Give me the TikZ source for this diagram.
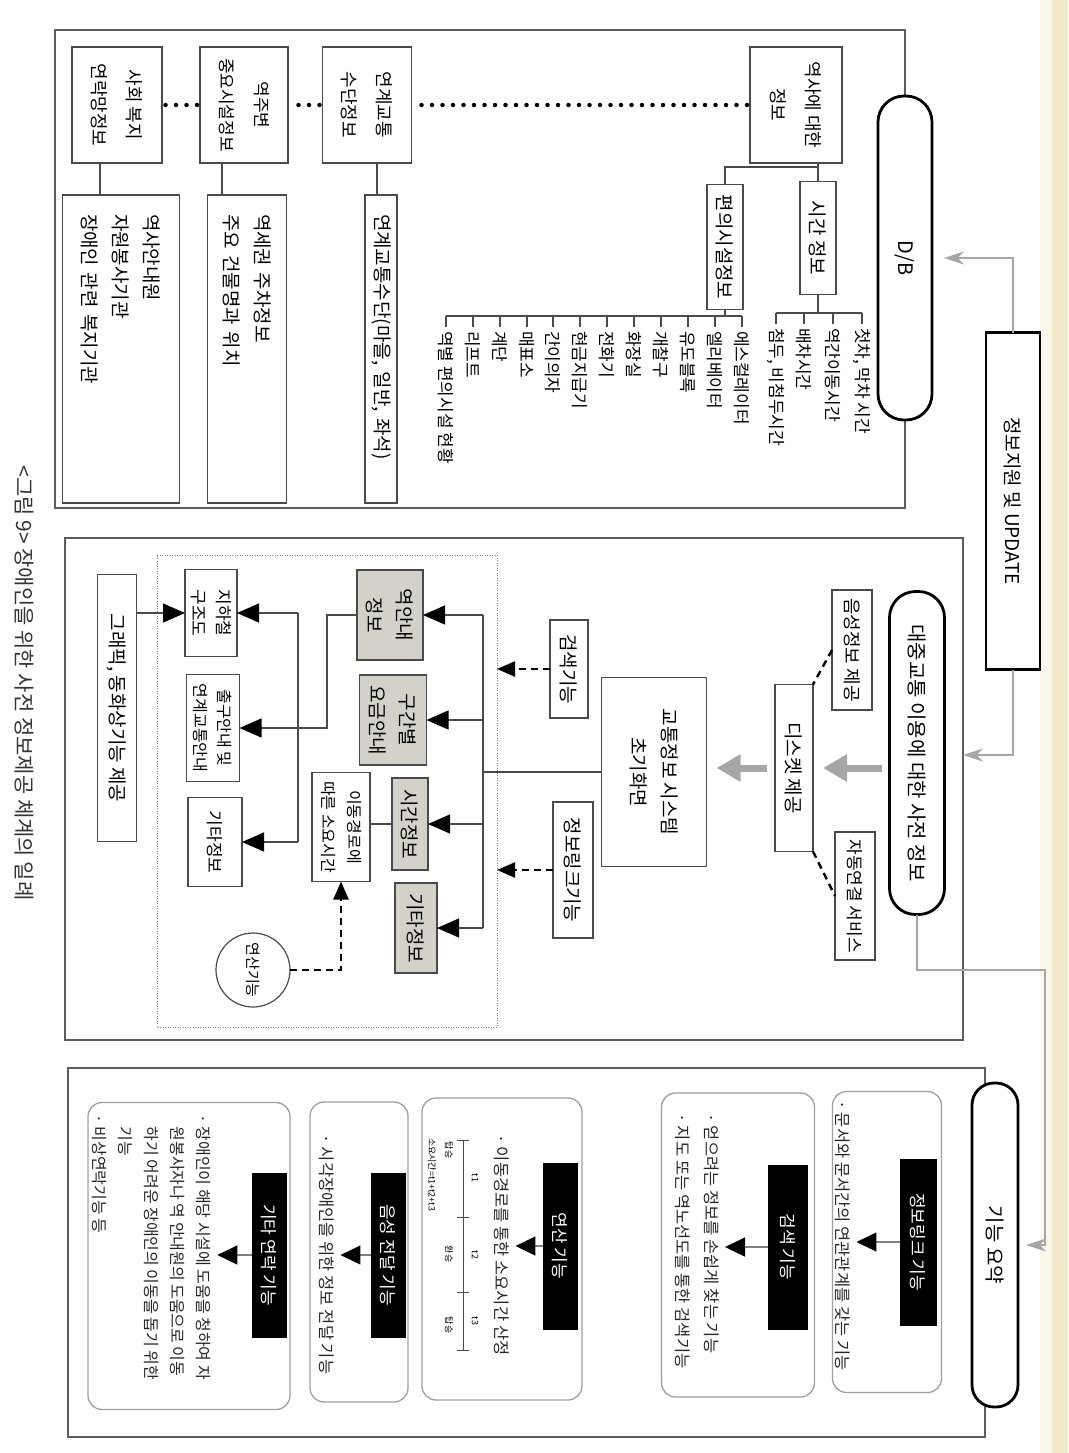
\documentclass[tikz,border=0pt]{standalone}
\usepackage{fontspec}
\setmainfont{Noto Sans CJK KR}
\usetikzlibrary{arrows.meta}
\definecolor{lc}{HTML}{4A4A4A}
\definecolor{gfill}{HTML}{D4D1CA}
\definecolor{garw}{HTML}{A6A6A6}
\definecolor{scanA}{HTML}{FBF7EA}
\definecolor{scanB}{HTML}{F2E9CB}
\newcommand{\fsz}[2]{\fontsize{#1}{#2}\selectfont}
\begin{document}
\begin{tikzpicture}[x=1pt,y=1pt,rotate=-90,transform shape,
  every node/.style={inner sep=0pt,outer sep=0pt},
  ln/.style={draw=lc,line width=1.1pt},
  frm/.style={draw=lc!90,line width=1.3pt},
  bx/.style={draw=lc,line width=1.2pt,fill=white,align=center},
  gbx/.style={bx,fill=gfill},
  sub/.style={bx,align=left,font=\fsz{19}{31}},
  pillS/.style={draw=black,line width=2.8pt,fill=white,align=center},
  rb/.style={draw=gray!75,line width=1.3pt,rounded corners=14pt},
  lab/.style={fill=black,text=white,font=\fsz{17}{20}},
  txt/.style={align=left,font=\fsz{16.5}{29},text=black!85},
  lbl/.style={font=\fsz{17}{20},inner xsep=4pt},
  tiny/.style={font=\fsz{9}{11}},
  tl/.style={draw=lc,line width=0.9pt},
  garr/.style={draw=garw,line width=1.6pt,-{Stealth[length=20pt,width=13pt]}},
  bigg/.style={draw=garw,line width=7pt,-{Triangle[length=24pt,width=26pt]},shorten <=8pt,shorten >=10pt},
  arr/.style={draw=lc,line width=1.1pt,-{Triangle[length=22pt,width=19pt,color=black]}},
  barr/.style={draw=gray,line width=1.1pt,-{Triangle[length=20pt,width=19pt,color=black]},shorten >=6pt},
  darr/.style={draw=black,line width=2.4pt,dash pattern=on 7pt off 5pt,-{Triangle[length=18pt,width=15pt]}},
  dsh/.style={draw=black,line width=2.4pt,dash pattern=on 7pt off 5pt},
  dots/.style={draw=black,line width=4.5pt,line cap=round,dash pattern=on 0pt off 10.5pt,shorten <=3pt,shorten >=3pt},
  reg/.style={draw=gray,line width=0.9pt,dash pattern=on 1pt off 1.5pt}
]
\useasboundingbox (0,0) rectangle (1453,1068);
\fill[white] (0,0) rectangle (1453,1068);
\fill[scanA] (0,1040) rectangle (1453,1052);
\fill[scanB] (0,1052) rectangle (1453,1068);

% ================= top section =================
\draw[frm] (30,55) rectangle (508,905);
\node[pillS,minimum width=324,minimum height=54,rounded corners=26pt,font=\fsz{20}{24}] (db) at (258,905) {D/B};
\node[bx,draw=black,line width=2.8pt,minimum width=337,minimum height=54,font=\fsz{19}{24}] (upd) at (501,1013) {정보지원 및 UPDATE};

\node[bx,minimum width=116,minimum height=92,font=\fsz{18}{35}] (yeoksa) at (105,796) {역사에 대한\\정보};
\node[bx,minimum width=116,minimum height=89,font=\fsz{18}{35}] (lian) at (105,367) {연계교통\\수단정보};
\node[bx,minimum width=116,minimum height=88,font=\fsz{17}{35}] (juby) at (105,244) {역주변\\중요시설정보};
\node[bx,minimum width=116,minimum height=90,font=\fsz{18}{35}] (sahoe) at (105,117) {사회 복지\\연락망정보};

\node[sub,minimum height=32,text width=270pt,inner xsep=19pt] (lsub) at (349,381) {연계교통수단(마을, 일반, 좌석)};
\node[sub,minimum height=79,text width=270pt,inner xsep=19pt] (ysub) at (349,247) {역세권 주차정보\\주요 건물명과 위치};
\node[sub,minimum height=117,text width=270pt,inner xsep=19pt] (ssub) at (349,121) {역사안내원\\자원봉사기관\\장애인 관련 복지기관};

\node[bx,minimum width=113,minimum height=36,font=\fsz{19}{24}] (sigan) at (238,818) {시간 정보};
\node[bx,minimum width=125,minimum height=36,font=\fsz{19}{24}] (pyeoni) at (247,725) {편의시설정보};

\node[lbl,anchor=west] (s1) at (324,862) {첫차, 막차 시간};
\node[lbl,anchor=west] (s2) at (324,833) {역간이동시간};
\node[lbl,anchor=west] (s3) at (324,804) {배차시간};
\node[lbl,anchor=west] (s4) at (324,776) {첨두, 비첨두시간};

\node[lbl,anchor=west] (p1) at (327,742) {에스컬레이터};
\node[lbl,anchor=west] (p2) at (327,715) {엘리베이터};
\node[lbl,anchor=west] (p3) at (327,688) {유도블록};
\node[lbl,anchor=west] (p4) at (327,661) {개찰구};
\node[lbl,anchor=west] (p5) at (327,634) {화장실};
\node[lbl,anchor=west] (p6) at (327,607) {전화기};
\node[lbl,anchor=west] (p7) at (327,580) {현금지급기};
\node[lbl,anchor=west] (p8) at (327,553) {간이의자};
\node[lbl,anchor=west] (p9) at (327,527) {매표소};
\node[lbl,anchor=west] (p10) at (327,500) {계단};
\node[lbl,anchor=west] (p11) at (327,473) {리프트};
\node[lbl,anchor=west] (p12) at (327,446) {역별 편의시설 현황};

% ================= middle section =================
\draw[frm] (538,65) rectangle (1040,963);
\node[pillS,minimum width=323,minimum height=55,rounded corners=26pt,font=\fsz{20}{24}] (pill2) at (753,917) {대중교통 이용에 대한 사전 정보};
\node[bx,minimum width=120,minimum height=40,font=\fsz{18}{22}] (eum) at (650,852) {음성정보 제공};
\node[bx,minimum width=128,minimum height=40,font=\fsz{17}{22}] (jadong) at (896,855) {자동연결 서비스};
\node[bx,minimum width=167,minimum height=38,font=\fsz{19}{22}] (disk) at (768,794) {디스켓 제공};
\node[bx,minimum width=189,minimum height=105,font=\fsz{19}{31}] (gyotong) at (772,654) {교통정보 시스템\\초기화면};
\node[bx,minimum width=98,minimum height=38,font=\fsz{19}{22}] (geomsaek) at (669,569) {검색기능};
\node[bx,minimum width=136,minimum height=40,font=\fsz{19}{22}] (jeongbo) at (870,573) {정보링크기능};

\draw[reg] (555,157) rectangle (1027,497);
\coordinate (regR) at (700,497);

\node[gbx,minimum width=90,minimum height=66,font=\fsz{19}{30}] (yeokan) at (615,390) {역안내\\정보};
\node[gbx,minimum width=90,minimum height=67,font=\fsz{19}{30}] (gugan) at (720,393) {구간별\\요금안내};
\node[gbx,minimum width=92,minimum height=36,font=\fsz{19}{22}] (siganj) at (824,410) {시간정보};
\node[gbx,minimum width=90,minimum height=42,font=\fsz{19}{22}] (gita1) at (928,416) {기타정보};
\node[bx,minimum width=109,minimum height=58,font=\fsz{16}{26}] (idong) at (827,341) {이동경로에\\따른 소요시간};
\node[bx,circle,minimum size=74,font=\fsz{15}{18}] (yeonsan) at (970,253) {연산기능};
\node[bx,minimum width=87,minimum height=52,font=\fsz{17}{25}] (jiha) at (613,211) {지하철\\구조도};
\node[bx,minimum width=107,minimum height=53,font=\fsz{16}{24}] (chulgu) at (728,213) {출구안내 및\\연계교통안내};
\node[bx,minimum width=89,minimum height=54,font=\fsz{17}{22}] (gita2) at (842,215) {기타정보};
\node[bx,minimum width=267,minimum height=39,font=\fsz{19}{22}] (graphic) at (708,117) {그래픽, 동화상기능 제공};

% ================= bottom section =================
\draw[frm] (1068,68) rectangle (1437,985);
\node[pillS,minimum width=324,minimum height=46,rounded corners=22pt,font=\fsz{20}{24}] (gn) at (1245,995) {기능 요약};

\node[rb,minimum width=301,minimum height=109] (rb1) at (1242,887) {};
\node[lab,minimum width=167,minimum height=37] (lab1) at (1242,918) {정보링크 기능};
\node[txt,anchor=west] (tx1) at (1100,843) {· 문서와 문서간의 연관관계를 갖는 기능};

\node[rb,minimum width=304,minimum height=153] (rb2) at (1245,738) {};
\node[lab,minimum width=165,minimum height=40] (lab2) at (1247,788) {검색 기능};
\node[txt,anchor=west] (tx2) at (1113,697) {· 얻으려는 정보를 손쉽게 찾는 기능\\· 지도 또는 역노선도를 통한 검색기능};

\node[rb,minimum width=302,minimum height=160] (rb3) at (1249,502) {};
\node[lab,minimum width=167,minimum height=35] (lab3) at (1246,560) {연산 기능};
\node[txt,anchor=west] (tx3) at (1134,502) {· 이동경로를 통한 소요시간 산정};

\node[rb,minimum width=300,minimum height=98] (rb4) at (1252,359) {};
\node[lab,minimum width=165,minimum height=35] (lab4) at (1255,388) {음성 전달 기능};
\node[txt,anchor=west] (tx4) at (1134,327) {· 시각장애인을 위한 정보 전달 기능};

\node[rb,minimum width=307,minimum height=202] (rb5) at (1256,189) {};
\node[lab,minimum width=165,minimum height=35] (lab5) at (1255,269) {기타 연락 기능};
\node[txt,anchor=west,font=\fsz{16}{26}] (tx5) at (1114,152) {· 장애인이 해당 시설에 도움을 청하여 자\\\hphantom{· }원봉사자나 역 안내원의 도움으로 이동\\\hphantom{· }하기 어려운 장애인의 이동을 돕기 위한\\\hphantom{· }기능\\· 비상연락기능 등};

% timeline inside 연산 기능
\coordinate (tA) at (1140,463);
\coordinate (tB) at (1350,463);
\draw[tl] (tA) -- (tB);
\foreach \u in {1140,1217,1292,1350} \draw[tl] (\u,457) -- (\u,469);
\node[tiny] (tt1) at (1178,475) {t1};
\node[tiny] (tt2) at (1255,475) {t2};
\node[tiny] (tt3) at (1321,475) {t3};
\node[tiny] (tb1) at (1150,449) {탑승};
\node[tiny] (tb2) at (1254,449) {환승};
\node[tiny] (tb3) at (1325,449) {탑승};
\node[tiny,anchor=west] (tsum) at (1138,432) {소요시간=t1+t2+t3};

% caption
\node[font=\fsz{21}{24},text=black!80] (cap) at (683,24) {<그림 9> 장애인을 위한 사전 정보제공 체계의 일례};

% ================= connectors =================
% top
\draw[dots] (yeoksa.south) -- (lian.north);
\draw[dots] (lian.south) -- (juby.north);
\draw[dots] (juby.south) -- (sahoe.north);
\coordinate (lx) at (180,377);
\coordinate (jx) at (180,222);
\coordinate (sx) at (180,100);
\draw[ln] (lian.east |- lx) -- (lsub.west |- lx);
\draw[ln] (juby.east |- jx) -- (ysub.west |- jx);
\draw[ln] (sahoe.east |- sx) -- (ssub.west |- sx);

\coordinate (yj) at (167,818);
\draw[ln] (yeoksa.east |- yj) -- (yj) -- (sigan.west);
\draw[ln] (yj) |- (pyeoni.west);

\coordinate (sb) at (313,818);
\draw[ln] (sigan.east) -- (sb);
\draw[ln] (s1.west -| sb) -- (s4.west -| sb);
\foreach \n in {s1,s2,s3,s4} \draw[ln] (\n.west) -- (\n.west -| sb);

\coordinate (pb) at (316,725);
\draw[ln] (pyeoni.east) -- (pb);
\draw[ln] (p1.west -| pb) -- (p12.west -| pb);
\foreach \n in {p1,p2,p3,p4,p5,p6,p7,p8,p9,p10,p11,p12} \draw[ln] (\n.west) -- (\n.west -| pb);

% update arrows
\draw[garr,shorten >=12pt] (upd.west) -| (db.north);
\coordinate (midR) at (755,963);
\draw[garr] (upd.east) -| (midR);
\coordinate (c1) at (970,1045);
\draw[garr,shorten >=8pt] (pill2.east) -| (c1) -| (gn.north);

% middle
\draw[dsh] (eum.south) -- (disk.north west);
\draw[dsh] (disk.north east) -- (jadong.south);
\draw[bigg] (pill2.south -| disk.north) -- (disk.north);
\draw[bigg] (disk.south) -- (disk.south |- gyotong.north);

\coordinate (bus) at (775,483);
\draw[ln] (gyotong.south) -- (gyotong.south |- bus);
\draw[ln] (yeokan.north |- bus) -- (gita1.north |- bus);
\foreach \n in {yeokan,gugan,siganj,gita1} \draw[arr] (\n.north |- bus) -- (\n.north);

\draw[darr] (geomsaek.south) -- (geomsaek.south |- regR);
\draw[darr] (jeongbo.south) -- (jeongbo.south |- regR);
\draw[ln] (siganj.south) -- (siganj.south |- idong.north);
\draw[darr] (yeonsan.north) |- (idong.east);

\coordinate (k1) at (700,327);
\draw[arr] (yeokan.south) |- (k1) -| (chulgu.north);
\coordinate (k2) at (700,298);
\draw[ln] (k2 -| jiha.north) -- (k2 -| gita2.north);
\draw[arr] (k2 -| jiha.north) -- (jiha.north);
\draw[arr] (k2 -| gita2.north) -- (gita2.north);
\draw[arr] (graphic.north -| jiha.south) -- (jiha.south);

% bottom
\draw[barr] (lab1.south) -- (lab1.south |- tx1.north);
\draw[barr] (lab2.south) -- (lab2.south |- tx2.north);
\draw[barr] (lab3.south) -- (lab3.south |- tx3.north);
\draw[barr] (lab4.south) -- (lab4.south |- tx4.north);
\draw[barr] (lab5.south) -- (lab5.south |- tx5.north);
\end{tikzpicture}
\end{document}
